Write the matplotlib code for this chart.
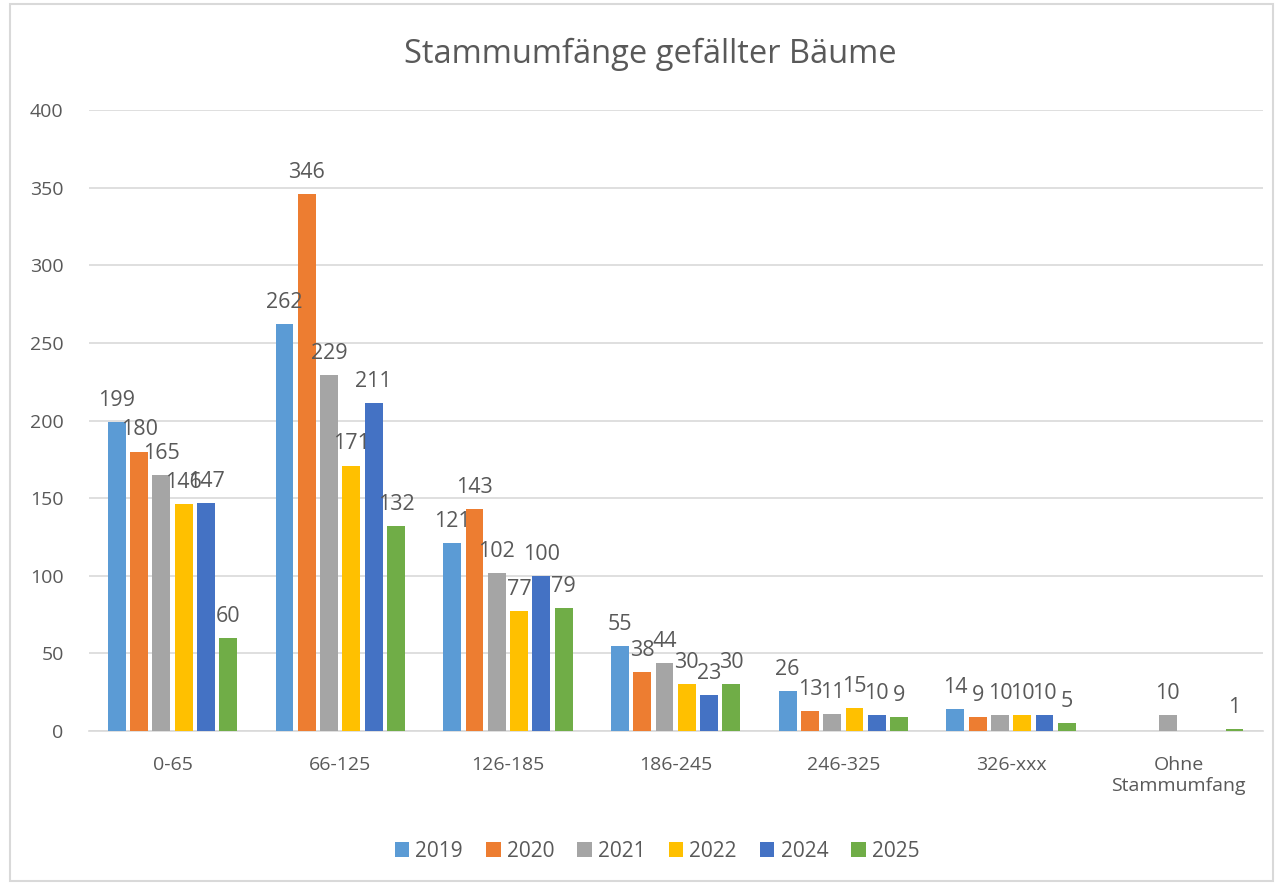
import numpy as np
import matplotlib.pyplot as plt
from matplotlib.patches import Rectangle

categories = ['0-65', '66-125', '126-185', '186-245', '246-325', '326-xxx', 'Ohne\nStammumfang']
years = ['2019', '2020', '2021', '2022', '2024', '2025']
v2019 = [199, 262, 121, 55, 26, 14, np.nan]
v2020 = [180, 346, 143, 38, 13, 9, np.nan]
v2021 = [165, 229, 102, 44, 11, 10, 10]
v2022 = [146, 171, 77, 30, 15, 10, np.nan]
v2024 = [147, 211, 100, 23, 10, 10, np.nan]
v2025 = [60, 132, 79, 30, 9, 5, 1]
series = [v2019, v2020, v2021, v2022, v2024, v2025]
colors = ['#5B9BD5', '#ED7D31', '#A5A5A5', '#FFC000', '#4472C4', '#70AD47']

txt = '#595959'
plt.rcParams['font.family'] = ['Open Sans', 'DejaVu Sans']

fig = plt.figure(figsize=(12.76, 8.85), dpi=100)
ax = fig.add_axes([0.0695, 0.174, 0.92, 0.7017])

x = np.arange(len(categories))
step = 0.133
width = 0.107
for i, (vals, c, yr) in enumerate(zip(series, colors, years)):
    pos = x + (i - 2.5) * step
    ax.bar(pos, vals, width, color=c, label=yr, zorder=3)
    for p, v in zip(pos, vals):
        if np.isnan(v):
            continue
        ax.annotate(str(v), (p, v), xytext=(0, 8), textcoords='offset points',
                    ha='center', va='bottom', fontsize=15.5, color=txt, zorder=4)

ax.set_xlim(-0.5, len(categories) - 0.5)
ax.set_ylim(0, 400)
ax.set_yticks(range(0, 401, 50))
ax.set_xticks(x)
ax.set_xticklabels(categories)
ax.tick_params(axis='both', length=0, labelsize=14, colors=txt)
ax.tick_params(axis='x', pad=18)
ax.tick_params(axis='y', pad=18)
ax.grid(axis='y', color='#D9D9D9', linewidth=1.2, zorder=0)
for s in ['top', 'right', 'left']:
    ax.spines[s].set_visible(False)
ax.spines['bottom'].set_color('#D9D9D9')
ax.spines['bottom'].set_linewidth(1.2)

fig.text(0.51, 0.938, 'Stammumfänge gefällter Bäume', ha='center', va='center',
         fontsize=23.5, color=txt)

leg = fig.legend(loc='center', bbox_to_anchor=(0.515, 0.038), ncol=6, frameon=False,
                 fontsize=15, handlelength=0.7, handleheight=0.7, handletextpad=0.3,
                 columnspacing=1.1)
for t in leg.get_texts():
    t.set_color(txt)

fig.patches.append(Rectangle((0.008, 0.005), 0.99, 0.99, transform=fig.transFigure,
                             fill=False, edgecolor='#D9D9D9', linewidth=1.5))

fig.savefig('out.png', dpi=100)
